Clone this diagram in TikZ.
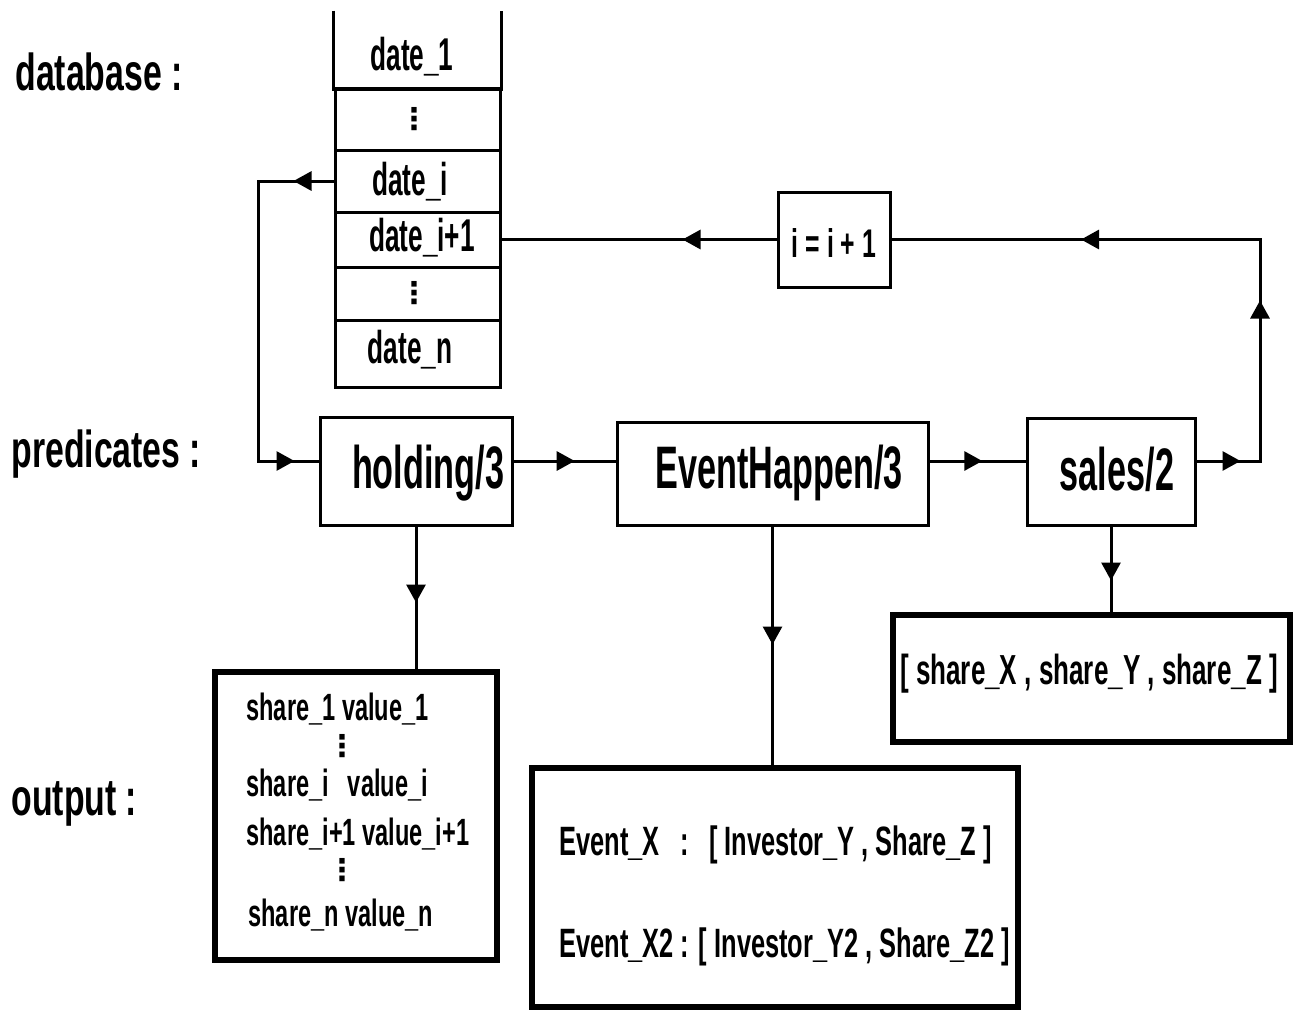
\documentclass[tikz,border=0pt]{standalone}
\usepackage{fontspec}
\setmainfont{Liberation Sans}[FakeStretch=0.62]
\newfontfamily\fpred{Liberation Sans}[FakeStretch=0.57]
\newfontfamily\flbl{Liberation Sans}[FakeStretch=0.65]
\newfontfamily\fdate{Liberation Sans}[FakeStretch=0.57]
\newfontfamily\dotsfont{DejaVu Sans}
\usetikzlibrary{arrows.meta,decorations.markings}

\begin{document}
\begin{tikzpicture}[x=1pt,y=-1pt,
  line width=3pt,
  >={Triangle[length=18pt,width=19pt]},
  arrowat/.style={postaction={decorate,decoration={markings,
      mark=at position #1 with {\arrow{>}}}}},
  lbl/.style={anchor=base west,inner sep=0,font=\fontsize{52}{58}\flbl\bfseries},
  box/.style={draw,inner sep=0},
  ptext/.style={anchor=base,inner sep=0,font=\fontsize{60}{66}\fpred\bfseries},
  cell/.style={draw,minimum width=165,minimum height=#1,inner sep=0},
  dtext/.style={anchor=base,inner sep=0,font=\fontsize{46}{50}\fdate\bfseries},
  vdot/.style={inner sep=0,font=\fontsize{30}{34}\dotsfont\bfseries},
  outbox/.style={draw,line width=6pt,inner sep=0},
  small/.style={anchor=base west,inner sep=0,font=\fontsize{38}{42}\selectfont\bfseries},
  mid/.style={anchor=base west,inner sep=0,font=\fontsize{41}{46}\selectfont\bfseries}
]
\useasboundingbox[fill=white] (0,0) rectangle (1295,1010);

% row labels
\node[lbl] (ldb) at (14,90) {database :};
\node[lbl] (lpr) at (10,467) {predicates :};
\node[lbl] (lout) at (10,815) {output :};

% database column (open at the top)
\node[cell=76,draw=none] (d1) at (417.5,50) {};
\draw (d1.north west) -- (d1.south west) -- (d1.south east) -- (d1.north east);
\node[cell=62] (dots1) at (417.5,119) {};
\node[cell=62] (di) at (417.5,181) {};
\node[cell=55] (dip) at (417.5,239.5) {};
\node[cell=53] (dots2) at (417.5,293.5) {};
\node[cell=67] (dn) at (417.5,353.5) {};
\node[dtext] (t1) at (412,70) {date\_1};
\node[vdot] (vd1) at (414,119) {⋮};
\node[dtext] (ti) at (410,195) {date\_i};
\node[dtext] (tip) at (422,251) {date\_i+1};
\node[vdot] (vd2) at (414,293.5) {⋮};
\node[dtext] (tn) at (410,363) {date\_n};

% counter box
\node[box,minimum width=112,minimum height=95] (inc) at (834,239.5) {};
\node[anchor=base,inner sep=0,font=\fontsize{40}{44}\selectfont\bfseries]
  (tinc) at (834,257) {i = i + 1};

% predicate boxes
\node[box,minimum width=192,minimum height=108] (hold) at (416,471) {};
\node[box,minimum width=311,minimum height=103] (eh) at (772.5,473.5) {};
\node[box,minimum width=168,minimum height=107] (sales) at (1111,471.5) {};
\node[ptext] (thold) at (428,488) {holding/3};
\node[ptext] (teh) at (779,488) {EventHappen/3};
\node[ptext] (tsales) at (1117,490) {sales/2};

% output boxes
\node[outbox,minimum width=282,minimum height=288] (out1) at (356,816) {};
\node[outbox,minimum width=486,minimum height=239] (out2) at (775,887.5) {};
\node[outbox,minimum width=397,minimum height=127] (out3) at (1091.5,678.5) {};

% contents of the holding output
\node[small] (s1) at (245,720) {share\_1 value\_1};
\node[vdot] (sv1) at (342,746) {⋮};
\node[small] (s2) at (245,796) {share\_i\enspace value\_i};
\node[small] (s3) at (245,845) {share\_i+1 value\_i+1};
\node[vdot] (sv2) at (342,870) {⋮};
\node[small] (s4) at (247,926) {share\_n value\_n};

% contents of the event output
\node[mid] (e1) at (558,855)
  {Event\_X\enspace:\enspace[\,Investor\_Y , Share\_Z ]};
\node[mid] (e2) at (558,957)
  {Event\_X2 : [ Investor\_Y2 , Share\_Z2 ]};

% contents of the sales output
\node[anchor=base,inner sep=0,font=\fontsize{42}{46}\selectfont\bfseries] (t3) at (1089,684)
  {[ share\_X , share\_Y , share\_Z ]};

% flow connectors
\coordinate (row) at (0,461);
\coordinate (lc) at (258,0);
\coordinate (rc) at (1260,239.5);

\draw[arrowat=40pt,arrowat=-24pt]
  (di.west) -| (lc |- row) -- (hold.west |- row);
\draw[arrowat=0.6] (hold.east |- row) -- (eh.west |- row);
\draw[arrowat=0.55] (eh.east |- row) -- (sales.west |- row);
\draw[arrowat=44pt,arrowat=224pt,arrowat=464pt]
  (sales.east |- row) -| (rc) -- (inc.east);
\draw[arrowat=94pt] (inc.west) -- (dip.east);

% result connectors
\draw[arrowat=76pt] (hold.south) -- (hold.south |- out1.north);
\draw[arrowat=118pt] (eh.south) -- (eh.south |- out2.north);
\draw[arrowat=54pt] (sales.south) -- (sales.south |- out3.north);
\end{tikzpicture}
\end{document}
